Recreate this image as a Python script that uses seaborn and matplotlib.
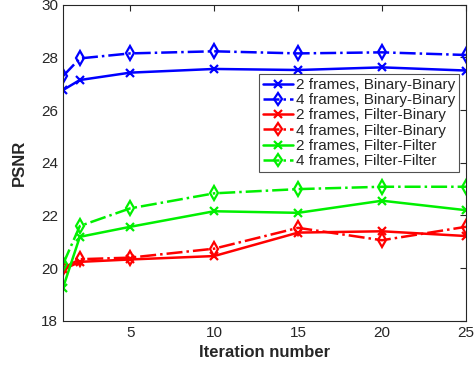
import numpy as np
import pandas as pd
import matplotlib
matplotlib.use("Agg")
import matplotlib.pyplot as plt
import seaborn as sns

# PSNR vs. iteration number
iterations = [1, 2, 5, 10, 15, 20, 25]
bb_2 = [26.76, 27.14, 27.42, 27.56, 27.52, 27.62, 27.50]
bb_4 = [27.29, 27.96, 28.15, 28.23, 28.15, 28.19, 28.09]
fb_2 = [19.95, 20.24, 20.33, 20.46, 21.35, 21.40, 21.22]
fb_4 = [20.00, 20.34, 20.40, 20.74, 21.53, 21.06, 21.57]
ff_2 = [19.26, 21.19, 21.57, 22.16, 22.10, 22.56, 22.20]
ff_4 = [20.15, 21.60, 22.27, 22.84, 23.00, 23.09, 23.09]

labels = ['2 frames, Binary-Binary', '4 frames, Binary-Binary',
          '2 frames, Filter-Binary', '4 frames, Filter-Binary',
          '2 frames, Filter-Filter', '4 frames, Filter-Filter']
series = [bb_2, bb_4, fb_2, fb_4, ff_2, ff_4]
colors = ['#0000ff', '#0000ff', '#ff0000', '#ff0000', '#00f000', '#00f000']

sns.set_style("white")
plt.rcParams['font.family'] = ['Liberation Sans', 'DejaVu Sans']

fig = plt.figure(figsize=(4.74, 3.88), dpi=100)
ax = fig.add_axes([0.133, 0.173, 0.85, 0.815])

for i, (lab, vals) in enumerate(zip(labels, series)):
    df = pd.DataFrame({'Iteration': iterations, 'PSNR': vals})
    four = i % 2 == 1
    sns.lineplot(data=df, x='Iteration', y='PSNR', ax=ax, color=colors[i],
                 linestyle='-.' if four else '-', linewidth=1.8,
                 marker='d' if four else 'x', markersize=7 if four else 6,
                 markerfacecolor='none' if four else colors[i],
                 markeredgecolor=colors[i], markeredgewidth=1.6,
                 label=lab)

ax.set_xlim(1, 25)
ax.set_ylim(18, 30)
ax.set_xticks([5, 10, 15, 20, 25])
ax.set_yticks(np.arange(18, 31, 2))
ax.tick_params(direction='in', top=True, right=True, length=4,
               labelsize=11, colors='#262626')
for s in ax.spines.values():
    s.set_color('#262626')
    s.set_linewidth(0.8)
ax.set_xlabel('Iteration number', fontsize=12, fontweight='bold')
ax.set_ylabel('PSNR', fontsize=12, fontweight='bold', labelpad=10)

leg = ax.legend(loc='upper right', bbox_to_anchor=(0.984, 0.78), fontsize=11,
                frameon=True, fancybox=False, edgecolor='#262626',
                borderpad=0.25, labelspacing=0.08, handlelength=2.0,
                handletextpad=0.2, borderaxespad=0, markerscale=0.85)
leg.get_frame().set_linewidth(0.8)

fig.savefig('out.png', dpi=100)
